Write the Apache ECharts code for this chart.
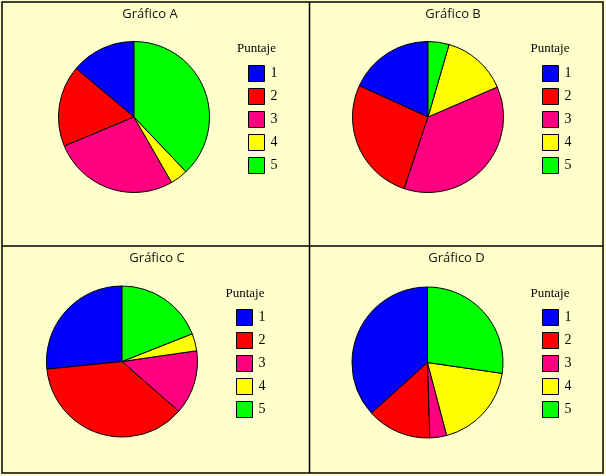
<!DOCTYPE html>
<html>
<head>
<meta charset="utf-8">
<script src="https://cdn.jsdelivr.net/npm/echarts@6/dist/echarts.min.js"></script>
<style>
html,body{margin:0;padding:0;background:#FFFFCC;}
#chart{width:606px;height:476px;}
</style>
</head>
<body>
<div id="chart"></div>
<script>
const categories = ['1', '2', '3', '4', '5'];
const chartTitles = ['Gráfico A', 'Gráfico B', 'Gráfico C', 'Gráfico D'];
const legendTitle = 'Puntaje';
const valuesA = [13.9, 17.4, 27.0, 3.8, 37.9];
const valuesB = [18.2, 26.7, 36.6, 14.0, 4.5];
const valuesC = [26.6, 36.9, 13.7, 3.7, 19.0];
const valuesD = [36.7, 13.8, 3.6, 18.6, 27.3];
const sliceColors = ['#0000FF', '#FF0000', '#FF0080', '#FFFF00', '#00FF00'];

const serif = '"Liberation Serif", "DejaVu Serif", serif';

const panels = [
  { values: valuesA, center: [134, 117], legend: [248, 65], lt: [256.5, 49], tt: [150, 14] },
  { values: valuesB, center: [428, 117], legend: [542, 65], lt: [550, 49], tt: [453, 14] },
  { values: valuesC, center: [122, 361.5], legend: [236, 309], lt: [245, 293.5], tt: [157, 258] },
  { values: valuesD, center: [427.5, 362.5], legend: [542, 309], lt: [550, 293.5], tt: [456.5, 258] }
];

const chart = echarts.init(document.getElementById('chart'), null, { renderer: 'canvas' });

const series = panels.map((p, i) => ({
  type: 'pie',
  center: p.center,
  radius: 75.5,
  startAngle: 90,
  clockwise: false,
  animation: false,
  label: { show: false },
  labelLine: { show: false },
  emphasis: { disabled: true },
  itemStyle: { borderColor: '#000', borderWidth: 1 },
  data: categories.map((c, k) => ({ name: c, value: p.values[k], itemStyle: { color: sliceColors[k] } }))
}));

const legends = panels.map(p => ({
  data: categories,
  orient: 'vertical',
  left: p.legend[0],
  top: p.legend[1],
  padding: 0,
  icon: 'rect',
  itemWidth: 16,
  itemHeight: 16,
  itemGap: 6,
  selectedMode: false,
  itemStyle: { borderColor: '#000', borderWidth: 1 },
  textStyle: { fontFamily: serif, fontSize: 14, color: '#000', padding: [0, 0, 0, 1] }
}));

const graphics = [];
graphics.push({ type: 'rect', shape: { x: 2, y: 2, width: 601, height: 471 }, style: { fill: null, stroke: '#000', lineWidth: 1.5 }, silent: true });
graphics.push({ type: 'line', shape: { x1: 309.5, y1: 2, x2: 309.5, y2: 473 }, style: { stroke: '#000', lineWidth: 1.5 }, silent: true });
graphics.push({ type: 'line', shape: { x1: 2, y1: 246, x2: 603, y2: 246 }, style: { stroke: '#000', lineWidth: 1.5 }, silent: true });
panels.forEach((p, i) => {
  graphics.push({ type: 'text', x: p.tt[0], y: p.tt[1], style: { text: chartTitles[i], fontFamily: '"Open Sans", sans-serif', fontSize: 13, fill: '#111', textAlign: 'center', textVerticalAlign: 'middle' }, silent: true });
  graphics.push({ type: 'text', x: p.lt[0], y: p.lt[1], style: { text: legendTitle, fontFamily: serif, fontSize: 13, fill: '#000', textAlign: 'center', textVerticalAlign: 'middle' }, silent: true });
});

chart.setOption({
  backgroundColor: '#FFFFCC',
  animation: false,
  legend: legends,
  series: series,
  graphic: graphics
});
</script>
</body>
</html>
